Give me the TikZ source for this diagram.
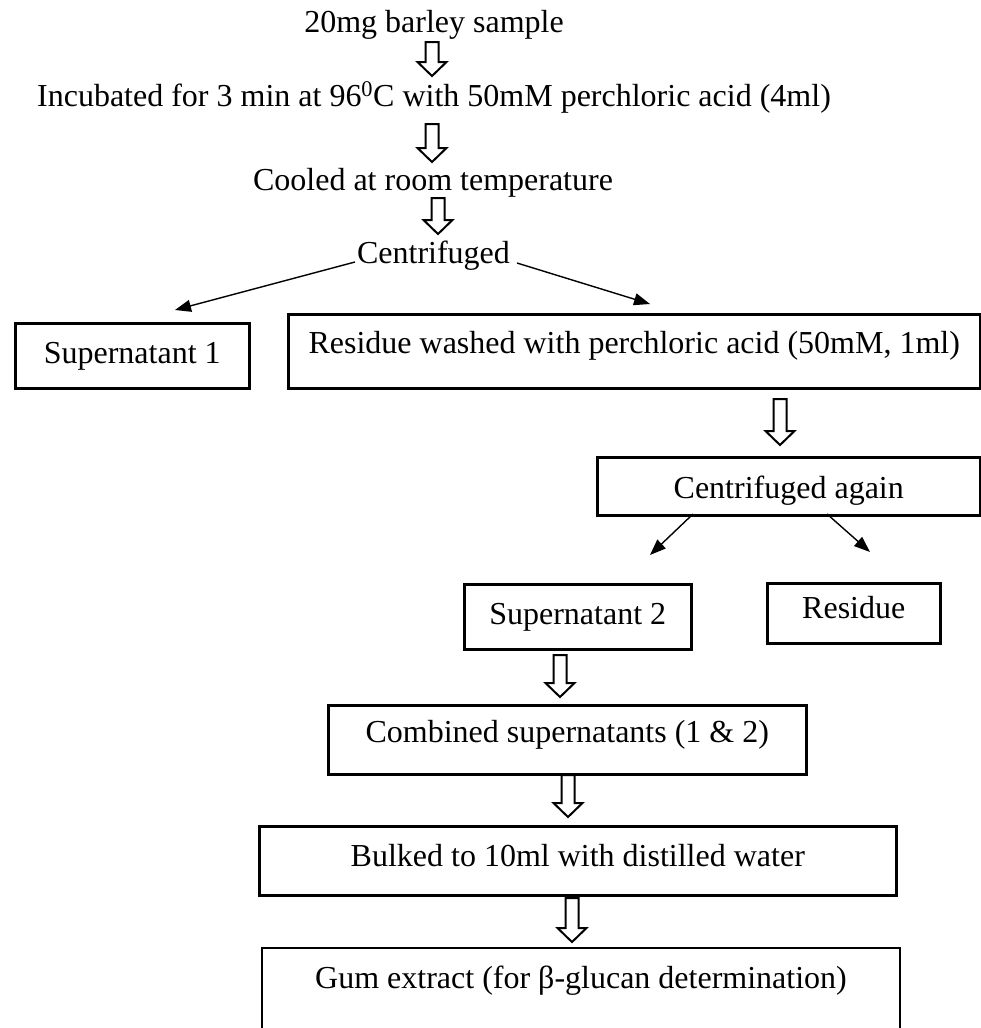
\documentclass[tikz,border=0pt]{standalone}
\usepackage{fontspec}
\setmainfont{Liberation Serif}
\usetikzlibrary{calc,arrows.meta}
\newcommand\hollowarrow[2]{%
  \draw[hollow] let \p1=(#1), \p2=(#2) in
    (\x1-6.5pt,\y1) -- (\x1+6.5pt,\y1) -- (\x1+6.5pt,\y2+14pt) -- (\x1+14.5pt,\y2+14pt)
    -- (\x1,\y2) -- (\x1-14.5pt,\y2+14pt) -- (\x1-6.5pt,\y2+14pt) -- cycle;}
\begin{document}
\begin{tikzpicture}[x=1pt,y=-1pt,
  txt/.style={font=\fontsize{32}{38}\selectfont, inner sep=0pt, anchor=base},
  stepbox/.style={draw, line width=2.5pt, font=\fontsize{32}{38}\selectfont, inner xsep=0pt, inner ysep=0pt, anchor=north west},
  flowline/.style={line width=1.4pt, -{Triangle[length=16pt,width=12pt]}},
  hollow/.style={line width=2pt, draw=black, fill=white, line join=miter}]
\useasboundingbox (0,0) rectangle (981,1028);
\fill[white] (0,0) rectangle (981,1028);

% plain text steps
\node[txt] (n1) at (434,32) {20mg barley sample};
\node[txt] (n2) at (434,106) {Incubated for 3 min at 96\textsuperscript{0}C with 50mM perchloric acid (4ml)};
\node[txt] (n3) at (433,190) {Cooled at room temperature};
\node[txt] (n4) at (433.5,263) {Centrifuged};

% boxes: min width = R-L, text height = baseline-T, text depth = B-baseline
\node[stepbox, minimum width=234pt, text height=40pt, text depth=25pt] (sup1) at (14,322) {Supernatant 1};
\node[stepbox, minimum width=692pt, text height=39pt, text depth=35pt] (res1) at (287,313) {Residue washed with perchloric acid (50mM, 1ml)};
\node[stepbox, minimum width=383pt, text height=41pt, text depth=17pt] (ca) at (596,456) {Centrifuged again};
\node[stepbox, minimum width=227pt, text height=40pt, text depth=25pt] (sup2) at (463,583) {Supernatant 2};
\node[stepbox, minimum width=173pt, text height=35pt, text depth=25pt] (res2) at (766,582) {Residue};
\node[stepbox, minimum width=478pt, text height=37pt, text depth=32pt] (comb) at (327,704) {Combined supernatants (1 \& 2)};
\node[stepbox, minimum width=637pt, text height=40pt, text depth=29pt] (bulk) at (258,825) {Bulked to 10ml with distilled water};
\node[txt] (gum) at (581,988) {Gum extract (for β-glucan determination)};
\draw[line width=2.5pt] (262,1032) -- (262,948) -- (900,948) -- (900,1032);

% hollow arrow end points
\coordinate (a1s) at (432,42);  \coordinate (a1e) at (432,76);
\coordinate (a2s) at (432,124); \coordinate (a2e) at (432,162);
\coordinate (a3s) at (438,198); \coordinate (a3e) at (438,234);
\coordinate (a4s) at (780,399); \coordinate (a4e) at (780,445);
\coordinate (a5s) at (560,655); \coordinate (a5e) at (560,697);
\coordinate (a6s) at (568,775); \coordinate (a6e) at (568,817);
\coordinate (a7s) at (572,898); \coordinate (a7e) at (572,942);
\hollowarrow{a1s}{a1e}
\hollowarrow{a2s}{a2e}
\hollowarrow{a3s}{a3e}
\hollowarrow{a4s}{a4e}
\hollowarrow{a5s}{a5e}
\hollowarrow{a6s}{a6e}
\hollowarrow{a7s}{a7e}

% thin arrows
\coordinate (c1) at (355,262); \coordinate (c1e) at (175,310);
\coordinate (c2) at (517,263); \coordinate (c2e) at (650,304);
\coordinate (c3) at (693,514); \coordinate (c3e) at (650,555);
\coordinate (c4) at (827,514); \coordinate (c4e) at (870,552);
\draw[flowline] (c1) -- (c1e);
\draw[flowline] (c2) -- (c2e);
\draw[flowline] (c3) -- (c3e);
\draw[flowline] (c4) -- (c4e);
\end{tikzpicture}
\end{document}
